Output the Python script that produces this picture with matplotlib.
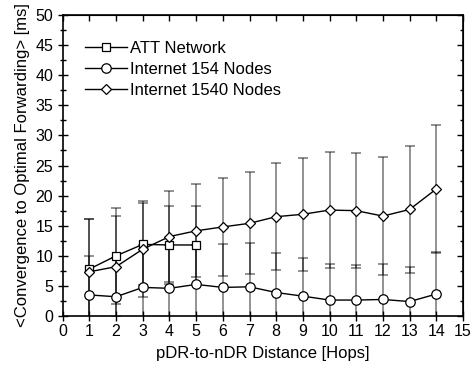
import matplotlib
matplotlib.use("Agg")
import matplotlib.pyplot as plt
from matplotlib.ticker import MultipleLocator

plt.rcParams['font.family'] = ['Liberation Sans', 'DejaVu Sans']

# Hop distances
hops_att = [1, 2, 3, 4, 5]
hops_inet = [1, 2, 3, 4, 5, 6, 7, 8, 9, 10, 11, 12, 13, 14]

# ATT Network: mean and standard deviation [ms]
att_mean = [7.8, 10.0, 11.9, 11.8, 11.8]
att_std = [8.3, 7.95, 6.8, 6.5, 6.4]

# Internet 154 Nodes
inet154_mean = [3.5, 3.2, 4.75, 4.6, 5.25, 4.75, 4.85, 3.9, 3.3, 2.65, 2.65, 2.75, 2.4, 3.65]
inet154_std = [6.5, 6.5, 7.0, 7.2, 6.5, 7.15, 7.2, 6.65, 6.4, 6.05, 5.8, 5.85, 5.8, 6.95]

# Internet 1540 Nodes
inet1540_mean = [7.35, 8.2, 11.1, 13.2, 14.15, 14.8, 15.4, 16.5, 16.9, 17.6, 17.5, 16.6, 17.7, 21.1]
inet1540_std = [8.75, 8.4, 8.0, 7.5, 7.75, 8.2, 8.5, 8.9, 9.4, 9.7, 9.6, 9.8, 10.5, 10.6]

series = [
    ("ATT Network", hops_att, att_mean, att_std, "s", 6.0),
    ("Internet 154 Nodes", hops_inet, inet154_mean, inet154_std, "o", 6.8),
    ("Internet 1540 Nodes", hops_inet, inet1540_mean, inet1540_std, "D", 5.5),
]

fig = plt.figure(figsize=(4.77, 3.69), dpi=100)
ax = fig.add_axes([0.1315, 0.1436, 0.8391, 0.8157])

# error bars first, semi-transparent so overlapping bars darken
for label, x, m, s, mk, ms in series:
    _, caps, _ = ax.errorbar(x, m, yerr=s, fmt="none", ecolor=(0, 0, 0, 0.5),
                             elinewidth=1.2, capsize=3.5, capthick=1.2, zorder=2)
    for c in caps:
        c.set_color("black")

for label, x, m, s, mk, ms in series:
    ax.plot(x, m, color="black", linewidth=1.0, marker=mk, markersize=ms,
            markerfacecolor="white", markeredgecolor="black",
            markeredgewidth=0.9, label=label, zorder=3)

ax.set_xlim(0, 15)
ax.set_ylim(0, 50)
ax.xaxis.set_major_locator(MultipleLocator(1))
ax.yaxis.set_major_locator(MultipleLocator(5))
ax.yaxis.set_minor_locator(MultipleLocator(2.5))

ax.tick_params(axis="both", which="major", direction="inout", length=7,
               width=1.0, labelsize=11.5, top=False, right=False)
ax.tick_params(axis="y", which="minor", direction="inout", length=4, width=1.0)
ax.tick_params(axis="x", which="major", pad=2)

for side in ("top", "right", "left", "bottom"):
    ax.spines[side].set_linewidth(1.2)

# inward ticks on the top and right edges
sec_x = ax.secondary_xaxis("top")
sec_x.xaxis.set_major_locator(MultipleLocator(1))
sec_x.tick_params(direction="in", length=4, width=1.0, labeltop=False)
sec_y = ax.secondary_yaxis("right")
sec_y.yaxis.set_major_locator(MultipleLocator(5))
sec_y.yaxis.set_minor_locator(MultipleLocator(2.5))
sec_y.tick_params(which="major", direction="in", length=4, width=1.0, labelright=False)
sec_y.tick_params(which="minor", direction="in", length=2.5, width=1.0)

ax.set_xlabel("pDR-to-nDR Distance [Hops]", fontsize=12, labelpad=5)
ax.set_ylabel("<Convergence to Optimal Forwarding> [ms]", fontsize=12, labelpad=4)

ax.legend(loc="upper left", bbox_to_anchor=(0.04, 0.935), frameon=False,
          fontsize=12, handlelength=2.5, handletextpad=0.15, labelspacing=0.36,
          borderaxespad=0.0)

fig.savefig("out.png", dpi=100)
